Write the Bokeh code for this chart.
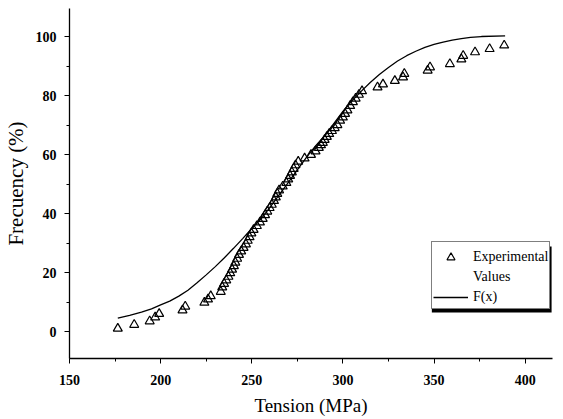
from bokeh.plotting import figure
from bokeh.models import (Range1d, SingleIntervalTicker, Legend, LegendItem,
                          BoxAnnotation, ColumnDataSource)
from bokeh.embed import file_html
from bokeh.resources import INLINE

# Experimental values (Tension MPa, Frequency %)
exp_x = [176.5, 185.5, 194, 197, 199.2, 212, 213.5, 224, 226, 227.5,
         233, 233.8, 234.8, 236, 237.2, 238.2, 239.2, 240.2, 241, 242,
         243, 244.2, 245.5, 246.8, 247.8, 248.8, 249.8, 251, 252.8, 254.5,
         256, 257.3, 258.5, 259.8, 261, 262.2, 263.2, 264, 265, 267,
         269, 270, 271, 272, 273, 274, 275.5, 279, 282.5, 285,
         286.8, 288, 289, 290, 291.2, 292.5, 294, 295.5, 297, 298.5,
         300, 301.2, 302.5, 304, 305.5, 307, 308.8, 310.5, 319, 322,
         328.5, 333, 333.7, 346.5, 347.8, 358.7, 365, 366, 372.5, 380.5,
         388.5]
exp_y = [1.0, 2.3, 3.5, 4.8, 6.0, 7.2, 8.5, 9.8, 10.9, 12.0,
         13.5, 15.0, 16.2, 17.4, 18.6, 19.8, 21.0, 22.2, 23.4, 24.7,
         26.0, 27.2, 28.4, 29.6, 30.8, 32.0, 33.3, 34.5, 35.8, 37.0,
         38.2, 39.5, 40.7, 41.9, 43.0, 44.3, 45.5, 46.7, 47.9, 49.2,
         50.4, 51.6, 52.8, 54.0, 55.2, 56.4, 57.6, 58.7, 59.9, 61.1,
         62.3, 63.2, 64.0, 65.0, 66.0, 67.0, 68.0, 69.0, 70.0, 71.5,
         72.6, 73.8, 75.0, 76.5, 77.8, 79.0, 80.3, 81.5, 82.8, 83.8,
         85.0, 86.2, 87.4, 88.5, 89.6, 90.7, 92.3, 93.5, 94.7, 95.8,
         97.0]

# Fitted distribution F(x)
fx = [176.5, 183, 189.5, 195, 200, 205, 210, 215, 220, 225,
      230, 235, 240, 245, 250, 255, 260, 265, 270, 275,
      280, 285, 290, 295, 300, 305, 310, 315, 320, 325,
      330, 335, 340, 345, 350, 355, 360, 365, 370, 376, 389]
fy = [4.5, 5.5, 6.6, 7.7, 9.0, 10.3, 12.0, 14.0, 16.5, 19.2,
      22.0, 25.0, 28.2, 31.5, 34.9, 38.1, 42.1, 46.3, 50.5, 54.8,
      59.0, 62.9, 66.4, 70.5, 74.6, 78.2, 81.4, 84.4, 87.1, 89.5,
      91.7, 93.5, 95.0, 96.3, 97.3, 98.1, 98.8, 99.3, 99.7, 100.0, 100.2]

x_ticks_interval = 50
y_ticks_interval = 20
legend_labels = ["Experimental", "Values", "F(x)"]

p = figure(width=556, height=419, output_backend="svg", toolbar_location=None,
           x_range=Range1d(150, 415), y_range=Range1d(-9.15, 109.5),
           min_border_left=68, min_border_right=4, min_border_top=8,
           min_border_bottom=61)
p.outline_line_color = None
p.grid.visible = False
p.background_fill_color = "white"
p.border_fill_color = "white"

serif = "Liberation Serif"
for ax, interval in ((p.xaxis[0], x_ticks_interval), (p.yaxis[0], y_ticks_interval)):
    ax.ticker = SingleIntervalTicker(interval=interval, num_minor_ticks=2)
    ax.axis_line_color = "black"
    ax.axis_line_width = 1.3
    ax.major_tick_line_color = "black"
    ax.minor_tick_line_color = "black"
    ax.major_tick_in = 0
    ax.major_tick_out = 5
    ax.minor_tick_in = 0
    ax.minor_tick_out = 3
    ax.major_label_text_font = serif
    ax.major_label_text_font_style = "bold"
    ax.major_label_text_font_size = "14px"
    ax.major_label_text_color = "black"
    ax.axis_label_text_font = serif
    ax.axis_label_text_font_style = "normal"
    ax.axis_label_text_color = "black"

p.xaxis.axis_label = "Tension (MPa)"
p.xaxis.axis_label_text_font_size = "19px"
p.xaxis.major_label_standoff = 11
p.xaxis.axis_label_standoff = 7
p.yaxis.axis_label = "Frecuency (%)"
p.yaxis.axis_label_text_font_size = "21px"
p.yaxis.major_label_standoff = 8
p.yaxis.axis_label_standoff = 5

line_r = p.line(fx, fy, line_color="black", line_width=1.3)
tri_r = p.scatter(exp_x, exp_y, marker="triangle", size=9, fill_color=None,
                  line_color="black", line_width=1.2)
empty_src = ColumnDataSource(data=dict(x=[], y=[]))
dummy = p.line(x="x", y="y", line_alpha=0, source=empty_src)

# legend drop shadow
shadow = BoxAnnotation(left=348.8, right=414.5, top=28.8, bottom=6.45,
                       fill_color="black", fill_alpha=1.0, line_color=None)
p.add_layout(shadow)

legend = Legend(items=[LegendItem(label=legend_labels[0], renderers=[tri_r]),
                       LegendItem(label=legend_labels[1], renderers=[dummy]),
                       LegendItem(label=legend_labels[2], renderers=[line_r])],
                location=(362, 49), padding=1, spacing=0, margin=0,
                title=" ", title_text_font_size="3px", title_standoff=0,
                glyph_width=35, glyph_height=20, label_height=20,
                label_standoff=5, label_text_font=serif,
                label_text_font_size="14px", label_text_color="black",
                border_line_color="black", border_line_width=1,
                background_fill_color="white", background_fill_alpha=1.0)
p.add_layout(legend, "center")

open("out.html", "w").write(file_html(p, INLINE))
